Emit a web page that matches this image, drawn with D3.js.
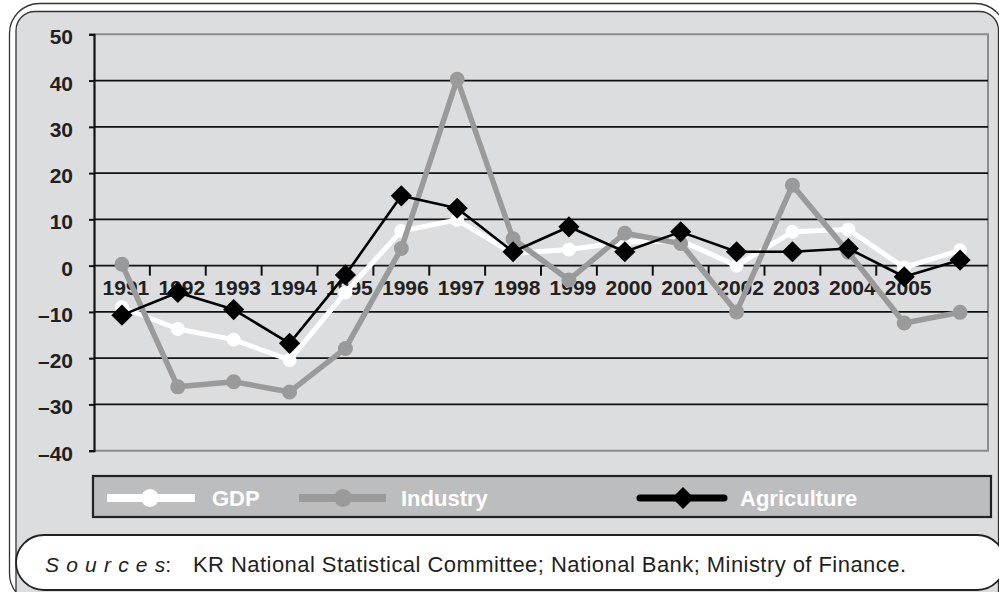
<!DOCTYPE html>
<html><head><meta charset="utf-8">
<script src="https://cdn.jsdelivr.net/npm/d3@7"></script>
<style>body{margin:0;background:#fff;} svg{display:block;font-family:"Liberation Sans",Arial,sans-serif;}</style>
</head><body><svg id="c" width="999" height="592"></svg>
<script>
const categories = ["1991","1992","1993","1994","1995","1996","1997","1998","1999","2000","2001","2002","2003","2004","2005","2006"];
const tickLabels = ["1991","1992","1993","1994","1995","1996","1997","1998","1999","2000","2001","2002","2003","2004","2005",""];
const gdp = [-9.0,-13.7,-16.0,-20.4,-5.8,7.5,9.9,2.6,3.5,5.1,5.4,0.0,7.3,7.8,-0.4,3.3];
const industry = [0.3,-26.2,-25.1,-27.3,-17.9,3.7,40.3,5.8,-3.1,7.0,4.8,-10.0,17.4,2.9,-12.4,-10.1];
const agriculture = [-10.7,-5.8,-9.5,-16.8,-2.0,15.1,12.4,3.0,8.4,3.0,7.3,3.0,3.0,3.7,-2.4,1.2];
const yTicks = [50,40,30,20,10,0,-10,-20,-30,-40];
const seriesNames = ["GDP","Industry","Agriculture"];
const sourceLabel = "Sources";
const sourceText = "KR National Statistical Committee; National Bank; Ministry of Finance.";

const svg = d3.select("#c");
const dark = "#231f20";

// frame
svg.append("rect").attr("x",9.5).attr("y",3.5).attr("width",996).attr("height",600).attr("rx",30)
  .attr("fill","#fff").attr("stroke","#333").attr("stroke-width",1.3);
svg.append("rect").attr("x",16).attr("y",11.5).attr("width",982.5).attr("height",600).attr("rx",19)
  .attr("fill","#dcdddf").attr("stroke","#333").attr("stroke-width",1.3);

const L = 94, R = 988, T = 34.3, B = 450.7;
const x = d3.scaleBand().domain(categories).range([L, R]);
const bw = x.bandwidth();
const cx = c => x(c) + bw/2;
const y = d3.scaleLinear().domain([-40, 50]).range([B, T]);

// plot border (gray)
svg.append("path").attr("d",`M${L},${y(50)}H${R}V${y(-40)}H${L}`)
  .attr("fill","none").attr("stroke","#8c8c8c").attr("stroke-width",2);

// gridlines
svg.append("g").selectAll("line").data(yTicks.filter(d => d < 50 && d > -40)).join("line")
  .attr("x1",L).attr("x2",R).attr("y1",d=>y(d)).attr("y2",d=>y(d))
  .attr("stroke","#111").attr("stroke-width",1.8);

// y axis
const yAxis = d3.axisLeft(y).tickValues(yTicks).tickSize(5).tickPadding(16)
  .tickFormat(d => d < 0 ? "\u2013" + Math.abs(d) : String(d));
const gy = svg.append("g").attr("transform",`translate(${L},0)`).call(yAxis);
gy.select(".domain").attr("stroke","#111").attr("stroke-width",2.2);
gy.selectAll(".tick line").attr("stroke","#111").attr("stroke-width",2);
gy.selectAll(".tick text").attr("font-size","21px").attr("font-weight","bold").attr("fill",dark)
  .attr("font-family","Liberation Sans, Arial, sans-serif").attr("dy","0.45em");

// x ticks on zero line
const y0 = y(0);
svg.append("g").selectAll("line").data(categories.slice(1, 15)).join("line")
  .attr("x1",d=>x(d)).attr("x2",d=>x(d)).attr("y1",y0).attr("y2",y0+10)
  .attr("stroke","#111").attr("stroke-width",2);
svg.append("g").selectAll("text").data(categories).join("text")
  .attr("x",(d)=>cx(d)+4).attr("y",y0+29.5).attr("text-anchor","middle")
  .attr("font-size","21px").attr("font-weight","bold").attr("fill",dark)
  .text((d,i)=>tickLabels[i]);

// series
const line = d3.line().x((d,i)=>cx(categories[i])).y(d=>y(d));
svg.append("path").datum(gdp).attr("d",line).attr("fill","none").attr("stroke","#fff").attr("stroke-width",5).attr("stroke-linejoin","round");
svg.append("g").selectAll("circle").data(gdp).join("circle")
  .attr("cx",(d,i)=>cx(categories[i])).attr("cy",d=>y(d)).attr("r",7).attr("fill","#fff");

svg.append("path").datum(industry).attr("d",line).attr("fill","none").attr("stroke","#9a9a9a").attr("stroke-width",5.5).attr("stroke-linejoin","round");
svg.append("g").selectAll("circle").data(industry).join("circle")
  .attr("cx",(d,i)=>cx(categories[i])).attr("cy",d=>y(d)).attr("r",7.5).attr("fill","#9a9a9a");

svg.append("path").datum(agriculture).attr("d",line).attr("fill","none").attr("stroke","#000").attr("stroke-width",2.6).attr("stroke-linejoin","round");
const diamond = d3.symbol(d3.symbolSquare, 225);
svg.append("g").selectAll("path").data(agriculture).join("path")
  .attr("d",diamond).attr("transform",(d,i)=>`translate(${cx(categories[i])},${y(d)}) rotate(45)`).attr("fill","#000");

// legend
const lg = svg.append("g");
lg.append("rect").attr("x",93).attr("y",476).attr("width",898).attr("height",41)
  .attr("fill","#bcbdbf").attr("stroke","#222").attr("stroke-width",2.2);
const legendItems = [
  {name:seriesNames[0], x1:107, x2:195, mx:150, tx:212, color:"#fff", sw:8, marker:"circle"},
  {name:seriesNames[1], x1:299, x2:386, mx:343, tx:401, color:"#9a9a9a", sw:8, marker:"circle"},
  {name:seriesNames[2], x1:640, x2:724, mx:683, tx:740, color:"#000", sw:7, marker:"diamond"}
];
const ly = 498;
legendItems.forEach(it => {
  lg.append("line").attr("x1",it.x1).attr("x2",it.x2).attr("y1",ly).attr("y2",ly)
    .attr("stroke",it.color).attr("stroke-width",it.sw).attr("stroke-linecap", it.marker==="diamond"?"round":"butt");
  if (it.marker === "circle") {
    lg.append("circle").attr("cx",it.mx).attr("cy",ly).attr("r",9).attr("fill",it.color);
  } else {
    lg.append("path").attr("d",d3.symbol(d3.symbolSquare, 240)).attr("transform",`translate(${it.mx},${ly}) rotate(45)`).attr("fill",it.color);
  }
  lg.append("text").attr("x",it.tx).attr("y",ly+8).attr("font-size","22px").attr("font-weight","bold")
    .attr("fill","#fff").text(it.name);
});

// sources box
svg.append("rect").attr("x",16).attr("y",535).attr("width",989).attr("height",55).attr("rx",28)
  .attr("fill","#fff").attr("stroke","#222").attr("stroke-width",1.8);
const st = svg.append("text").attr("x",45).attr("y",571.5).attr("font-size","21px").attr("fill",dark);
st.append("tspan").attr("font-style","italic").attr("letter-spacing","7.2px").text(sourceLabel.slice(0,-1));
st.append("tspan").attr("font-style","italic").text(sourceLabel.slice(-1));
st.append("tspan").text(":");
st.append("tspan").attr("x",193).attr("font-size","22px").attr("textLength",713).attr("lengthAdjust","spacing").text(sourceText);
</script></body></html>
